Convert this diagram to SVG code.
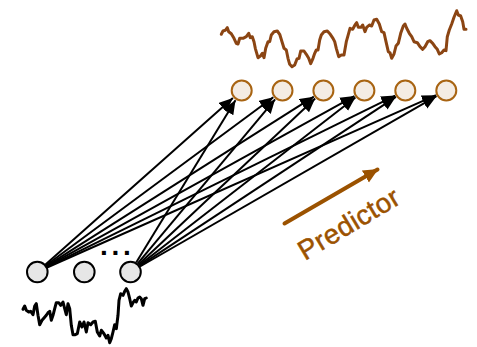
<svg xmlns="http://www.w3.org/2000/svg" width="477" height="347" viewBox="0 0 477 347">
<defs>
<marker id="ah" markerUnits="userSpaceOnUse" markerWidth="16" markerHeight="14" refX="14" refY="6" orient="auto">
<path d="M0,0 L14,6 L0,12 z" fill="#000"/>
</marker>
<marker id="bh" markerUnits="userSpaceOnUse" markerWidth="16" markerHeight="16" refX="14" refY="7" orient="auto">
<path d="M0,0 L15,7 L0,14 z" fill="#9b5200"/>
</marker>
<style>
.bn{fill:#e6e6e6;stroke:#000;stroke-width:2}
.tn{fill:#f4ece3;stroke:#a86412;stroke-width:2}
.ed line{stroke:#000;stroke-width:2;marker-end:url(#ah)}
.wave{fill:none;stroke-width:3;stroke-linejoin:round;stroke-linecap:round}
</style>
</defs>
<rect width="477" height="347" fill="#fff"/>
<polyline class="wave" stroke="#8b4513" points="221.3,34.3 223,31 225.3,30.3 227.3,27.7 228.7,31.7 231.3,33.7 234,38.3 236.3,43.3 238,44 239.7,38.3 243,38.3 246.3,36.7 248.7,33.3 250.3,37.7 252.3,36.7 254,41.7 255.3,48.3 258,57.7 260.7,55.7 262.3,53.3 264,57.7 265.7,48.3 268,41.7 269.7,41.7 271.3,35 274,31.7 277.3,31 279.7,34.3 282,41.7 284,48.3 286.3,50 288,58.3 289.7,64.3 292,66.7 294.7,65 297,59 299,58.3 300.7,51 304,51 306.3,54.3 308.7,58.3 310.7,63.7 313,58.3 314.7,53.3 316.3,50 318,50 319.7,40 321.3,35 324,31.7 327.3,31 330.3,34.3 333,38.3 334.7,41.7 336.3,48.3 338.7,56.7 341.3,55 344,55 346.3,41.7 348,35.7 350,28.3 352.7,29.3 355,25 356.7,22.7 358.3,27.3 361,27.3 362.7,25 365,31.7 366.7,27.3 369.3,25 371.7,26 374,20 376.7,19.3 379.3,24 381.7,31.7 384,32.7 386,41.7 388.3,51.7 390,52.7 391.7,58.3 394,54 396,46 398.3,43.3 400.7,33.3 403.3,26 405,24 406.7,28.3 409.3,33.3 411.7,36.7 414,41.7 417.3,42.7 420,46.7 422.7,49.3 425,46.7 427.7,41.7 430,40.7 432.7,43.3 435,46.7 437.3,49.3 439.3,54 441.7,52.7 444,50 446,50.7 447.3,36.7 449.3,30 451.7,24 454,17.3 456.7,10.7 458.3,15 460.7,16 462.7,21.7 464,29.3 466,29.3"/>
<polyline class="wave" stroke="#000" points="23,309.3 24.7,306 26.3,310.3 28.7,312 30.7,311.3 33,314.7 34.7,306 36.3,303.7 38,315.3 39.7,324.7 42,320.3 44,318 46.3,315.3 48,312.7 49.7,311.3 51.3,320.3 53,315.3 54.7,308.7 56.3,302.7 58.7,302.7 60.7,305.3 63,302 64.7,308.7 66.3,314.7 68,303.7 69.7,308.7 71.3,325.3 73,334.7 75.3,334.7 77.3,333.7 79.7,322 82,327 84,322 86.3,332 88,322.7 90.7,324.7 93,322 95.3,321.3 97.3,332 99.7,336 101.3,330.3 104,333.7 106.3,338 108,335.3 109.7,342.7 111.3,338.7 113,332 114.7,324.7 116.3,328.7 118,315.3 119,300.3 120.7,293.7 123,295.3 124.7,291.3 126.3,288.7 128,292 129.7,298.7 131.3,306 133,302.7 134.7,300.3 136.3,302 138,298 139.7,297 141.3,298.7 143,305.3 144.7,298.7 146.3,298"/>
<g id="connectors" class="ed">
<line x1="45.2" y1="264.7" x2="232.9" y2="98.1"/>
<line x1="45.8" y1="265.5" x2="273.3" y2="97.3"/>
<line x1="46.3" y1="266.1" x2="313.8" y2="96.7"/>
<line x1="46.6" y1="266.7" x2="354.4" y2="96.1"/>
<line x1="46.9" y1="267.1" x2="395.2" y2="95.6"/>
<line x1="47.1" y1="267.5" x2="436" y2="95.2"/>
<line x1="136.2" y1="262.6" x2="235.5" y2="100.3"/>
<line x1="137.6" y1="263.6" x2="275.1" y2="99.3"/>
<line x1="138.5" y1="264.5" x2="315.1" y2="98.4"/>
<line x1="139.2" y1="265.3" x2="355.4" y2="97.5"/>
<line x1="139.7" y1="265.9" x2="395.9" y2="96.8"/>
<line x1="140" y1="266.5" x2="436.5" y2="96.2"/>
</g>
<g id="in1"><circle class="bn" cx="37.3" cy="272" r="10.3"/></g>
<g id="in2"><circle class="bn" cx="84.3" cy="272" r="10.3"/></g>
<g id="in3"><circle class="bn" cx="130.5" cy="272" r="10.3"/></g>
<g id="dots"><text x="100" y="255" font-family="Liberation Sans, sans-serif" font-size="28" font-weight="bold" letter-spacing="3.7" fill="#000">...</text></g>
<g id="out1"><circle class="tn" cx="241.7" cy="90.5" r="10"/></g>
<g id="out2"><circle class="tn" cx="282.5" cy="90.5" r="10"/></g>
<g id="out3"><circle class="tn" cx="323.4" cy="90.5" r="10"/></g>
<g id="out4"><circle class="tn" cx="364.4" cy="90.5" r="10"/></g>
<g id="out5"><circle class="tn" cx="405.3" cy="90.5" r="10"/></g>
<g id="out6"><circle class="tn" cx="446.3" cy="90.5" r="10"/></g>
<g id="predictor">
<line x1="284.5" y1="223.5" x2="377.5" y2="169.5" stroke="#9b5200" stroke-width="4" stroke-linecap="round" marker-end="url(#bh)"/>
<text x="0" y="0" transform="translate(305,261) rotate(-31)" font-family="Liberation Sans, sans-serif" font-size="27.5" letter-spacing="0.4" fill="#9b5200" stroke="#9b5200" stroke-width="0.5">Predictor</text>
</g>
</svg>
